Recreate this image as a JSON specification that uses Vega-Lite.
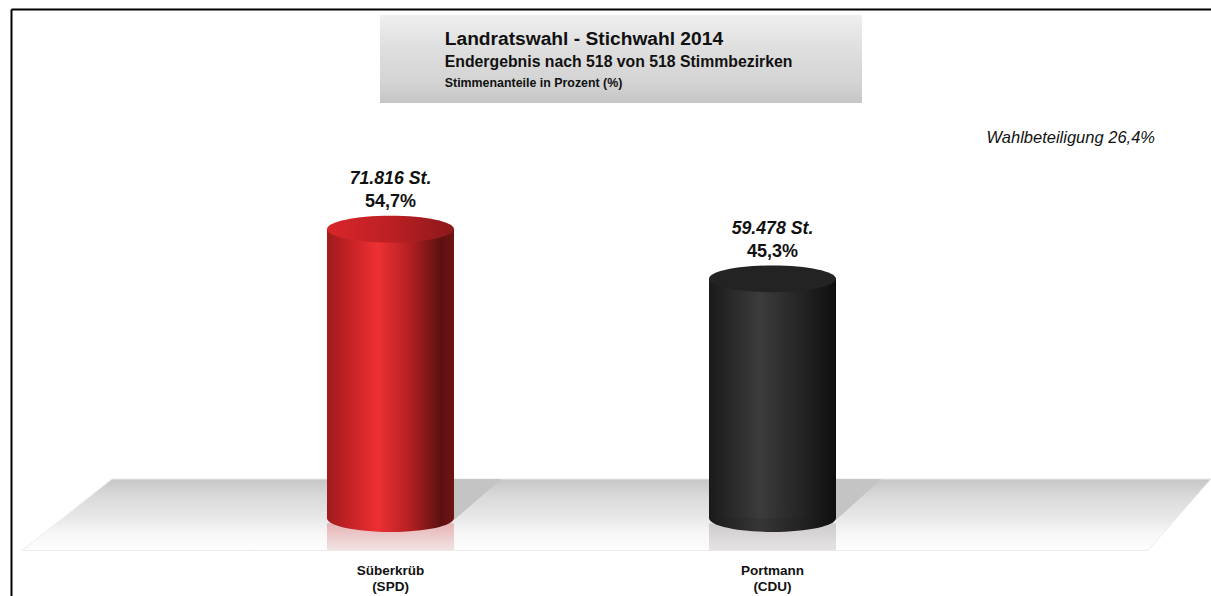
{
"$schema":"https://vega.github.io/schema/vega-lite/v6.json",
"autosize":{"type":"none"},
"padding":{"left":11,"top":9,"right":0,"bottom":0},
"width":1200,"height":587,
"background":"white",
"config":{"view":{"stroke":null},"axis":{"domain":true,"domainColor":"#000000","domainWidth":2,"ticks":false,"labels":false,"grid":false,"title":null},"text":{"font":"Liberation Sans","color":"#111111"}},
"datasets":{
"floor":[{"x":0.0353,"y":-6.16,"y2":-6.16},{"x":0.2709,"y":7.39,"y2":-6.16},{"x":2.983,"y":7.39,"y2":-6.16},{"x":3.148,"y":7.39,"y2":7.39}],
"shadowRed":[{"x":1.166,"y":7.39,"y2":-0.4},{"x":1.29,"y":7.39,"y2":7.39}],
"shadowBlack":[{"x":2.166,"y":7.39,"y2":-0.4},{"x":2.285,"y":7.39,"y2":7.39}],
"box":[{"x":0.9725,"x2":2.2343,"y":95.27,"y2":78.6}],
"reflection":[{"x":1,"party":"SPD","y":-1,"y2":-6.16},{"x":2,"party":"CDU","y":-1,"y2":-6.16}],
"spd":[{"x":1,"y":54.7,"y2":0,"name":"Süberkrüb","party":"SPD","votes":"71.816 St.","share":"54,7%"}],
"cdu":[{"x":2,"y":45.3,"y2":0,"name":"Portmann","party":"CDU","votes":"59.478 St.","share":"45,3%"}],
"base":[{"x":1,"y":0,"party":"SPD"},{"x":2,"y":0,"party":"CDU"}],
"bars":[{"x":1,"y":54.7,"votes":"71.816 St.","share":"54,7%"},{"x":2,"y":45.3,"votes":"59.478 St.","share":"45,3%"}],
"names":[{"x":1,"y":-10.8,"text":"Süberkrüb"},{"x":2,"y":-10.8,"text":"Portmann"},{"x":1,"y":-13.9,"text":"(SPD)"},{"x":2,"y":-13.9,"text":"(CDU)"}]
},
"encoding":{
"x":{"field":"x","type":"quantitative","scale":{"domain":[0.00654,3.1479],"nice":false,"zero":false,"padding":0},"axis":{"orient":"top"}},
"y":{"field":"y","type":"quantitative","scale":{"domain":[-14.77,96.4],"nice":false,"zero":false},"axis":{"orient":"left"},"stack":null}
},
"layer":[
{"data":{"name":"floor"},"mark":{"type":"area","color":{"gradient":"linear","x1":0,"y1":0,"x2":0,"y2":1,"stops":[{"offset":0,"color":"#c6c6c6"},{"offset":0.25,"color":"#dadada"},{"offset":0.55,"color":"#e8e8e8"},{"offset":0.75,"color":"#f6f6f6"},{"offset":1,"color":"#fdfdfd"}]},"stroke":"#ececec","strokeWidth":1},"encoding":{"y2":{"field":"y2"}}},
{"data":{"name":"shadowRed"},"mark":{"type":"area","color":"#c4c4c4"},"encoding":{"y2":{"field":"y2"}}},
{"data":{"name":"shadowBlack"},"mark":{"type":"area","color":"#c4c4c4"},"encoding":{"y2":{"field":"y2"}}},
{"data":{"name":"box"},"mark":{"type":"rect","color":{"gradient":"linear","x1":0,"y1":0,"x2":0,"y2":1,"stops":[{"offset":0,"color":"#efefef"},{"offset":0.4,"color":"#dedede"},{"offset":0.75,"color":"#d4d4d4"},{"offset":1,"color":"#c6c6c6"}]}},"encoding":{"x2":{"field":"x2"},"y2":{"field":"y2"}}},
{"data":{"name":"reflection"},"transform":[{"filter":"datum.party=='SPD'"}],"mark":{"type":"bar","width":127,"color":{"gradient":"linear","x1":0,"y1":0,"x2":0,"y2":1,"stops":[{"offset":0,"color":"#e6b4b6"},{"offset":1,"color":"#f3e4e4"}]}},"encoding":{"y2":{"field":"y2"}}},
{"data":{"name":"reflection"},"transform":[{"filter":"datum.party=='CDU'"}],"mark":{"type":"bar","width":127,"color":{"gradient":"linear","x1":0,"y1":0,"x2":0,"y2":1,"stops":[{"offset":0,"color":"#cfcbcc"},{"offset":1,"color":"#e6e3e4"}]}},"encoding":{"y2":{"field":"y2"}}},
{"data":{"name":"base"},"transform":[{"filter":"datum.party=='SPD'"}],"mark":{"type":"point","filled":true,"opacity":1,"size":16129,"strokeWidth":0,"shape":"M-1,0A1,0.22,0,1,1,1,0A1,0.22,0,1,1,-1,0Z","fill":{"gradient":"linear","x1":0,"y1":0,"x2":1,"y2":0,"stops":[{"offset":0,"color":"#a01a1c"},{"offset":0.18,"color":"#c62226"},{"offset":0.4,"color":"#ee3034"},{"offset":0.65,"color":"#b42022"},{"offset":0.9,"color":"#5c1010"},{"offset":1,"color":"#701414"}]}}},
{"data":{"name":"base"},"transform":[{"filter":"datum.party=='CDU'"}],"mark":{"type":"point","filled":true,"opacity":1,"size":16129,"strokeWidth":0,"shape":"M-1,0A1,0.22,0,1,1,1,0A1,0.22,0,1,1,-1,0Z","fill":{"gradient":"linear","x1":0,"y1":0,"x2":1,"y2":0,"stops":[{"offset":0,"color":"#1a1a1a"},{"offset":0.4,"color":"#363636"},{"offset":0.7,"color":"#242424"},{"offset":1,"color":"#0e0e0e"}]}}},
{"data":{"name":"spd"},"mark":{"type":"bar","width":127,"color":{"gradient":"linear","x1":0,"y1":0,"x2":1,"y2":0,"stops":[{"offset":0,"color":"#a01a1c"},{"offset":0.18,"color":"#c62226"},{"offset":0.4,"color":"#ee3034"},{"offset":0.65,"color":"#b42022"},{"offset":0.9,"color":"#5c1010"},{"offset":1,"color":"#701414"}]}},"encoding":{"y2":{"field":"y2"}}},
{"data":{"name":"cdu"},"mark":{"type":"bar","width":127,"color":{"gradient":"linear","x1":0,"y1":0,"x2":1,"y2":0,"stops":[{"offset":0,"color":"#1a1a1a"},{"offset":0.4,"color":"#3c3c3c"},{"offset":0.7,"color":"#262626"},{"offset":1,"color":"#0e0e0e"}]}},"encoding":{"y2":{"field":"y2"}}},
{"data":{"name":"spd"},"mark":{"type":"point","filled":true,"opacity":1,"size":16129,"strokeWidth":0,"shape":"M-1,0A1,0.21,0,1,1,1,0A1,0.21,0,1,1,-1,0Z","fill":{"gradient":"linear","x1":0,"y1":0,"x2":1,"y2":0,"stops":[{"offset":0,"color":"#d8262a"},{"offset":0.5,"color":"#bc2024"},{"offset":1,"color":"#8c181a"}]}}},
{"data":{"name":"cdu"},"mark":{"type":"point","filled":true,"opacity":1,"size":16129,"strokeWidth":0,"shape":"M-1,0A1,0.21,0,1,1,1,0A1,0.21,0,1,1,-1,0Z","fill":"#232323"}},
{"data":{"name":"bars"},"mark":{"type":"text","fontSize":17.7,"fontWeight":"bold","fontStyle":"italic","baseline":"alphabetic","align":"center","dy":-45},"encoding":{"text":{"field":"votes"}}},
{"data":{"name":"bars"},"mark":{"type":"text","fontSize":18,"fontWeight":"bold","baseline":"alphabetic","align":"center","dy":-22},"encoding":{"text":{"field":"share"}}},
{"data":{"name":"names"},"mark":{"type":"text","fontSize":13.5,"fontWeight":"bold","baseline":"alphabetic","align":"center"},"encoding":{"text":{"field":"text"}}},
{"data":{"values":[{"x":1.142,"y":89.5,"text":"Landratswahl - Stichwahl 2014"}]},"mark":{"type":"text","fontSize":19.2,"fontWeight":"bold","baseline":"alphabetic","align":"left"},"encoding":{"text":{"field":"text"}}},
{"data":{"values":[{"x":1.142,"y":85.4,"text":"Endergebnis nach 518 von 518 Stimmbezirken"}]},"mark":{"type":"text","fontSize":15.8,"fontWeight":"bold","baseline":"alphabetic","align":"left"},"encoding":{"text":{"field":"text"}}},
{"data":{"values":[{"x":1.142,"y":81.6,"text":"Stimmenanteile in Prozent (%)"}]},"mark":{"type":"text","fontSize":12.4,"fontWeight":"bold","baseline":"alphabetic","align":"left"},"encoding":{"text":{"field":"text"}}},
{"data":{"values":[{"x":3.0013,"y":71,"text":"Wahlbeteiligung 26,4%"}]},"mark":{"type":"text","fontSize":16.5,"fontStyle":"italic","baseline":"alphabetic","align":"right"},"encoding":{"text":{"field":"text"}}}
]
}
